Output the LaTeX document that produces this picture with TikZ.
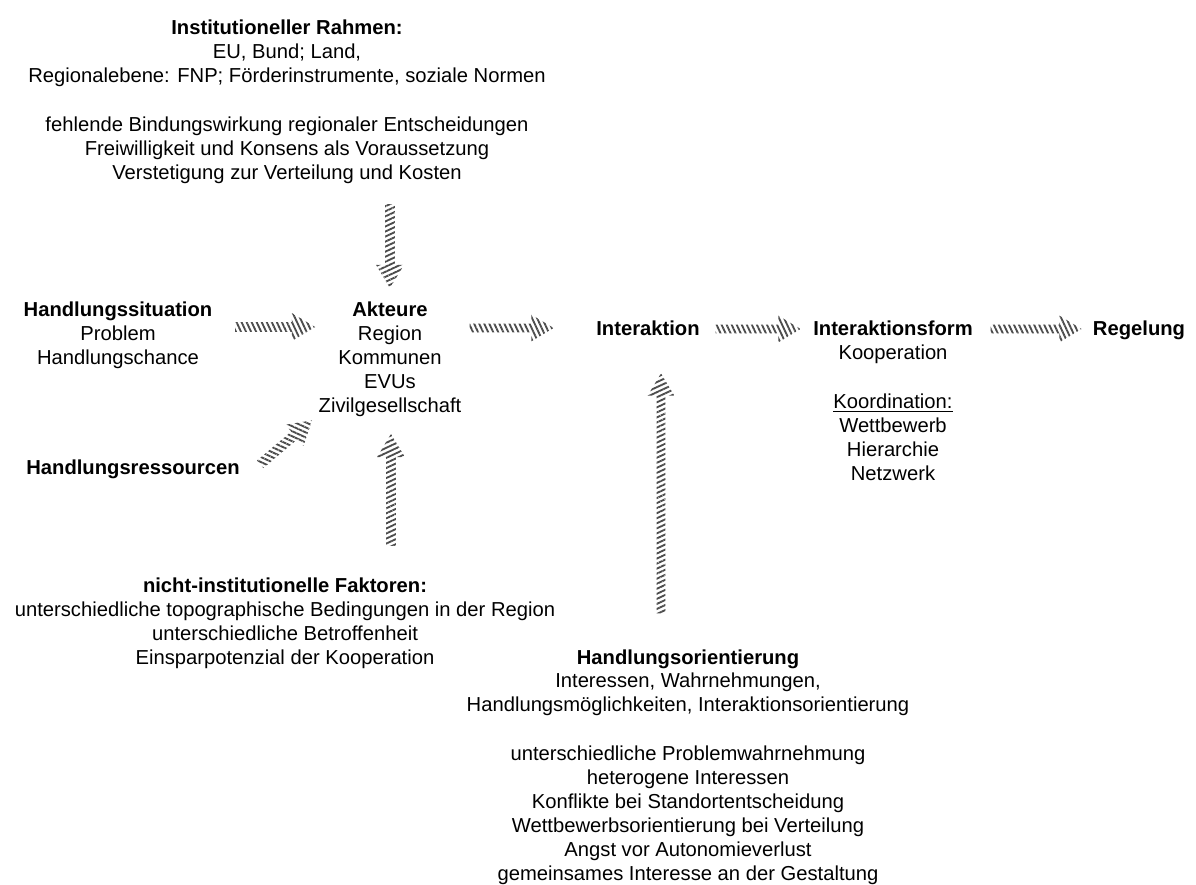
\documentclass[tikz,border=0pt]{standalone}
\usepackage{fontspec}
\setmainfont{Liberation Sans}
\usetikzlibrary{calc}
\usetikzlibrary{patterns.meta}
\usetikzlibrary{shapes.arrows}

\tikzset{
  txt/.style={align=center, font=\fontsize{11.5}{13.65}\selectfont, inner sep=0pt, anchor=north},
  hatch/.style={single arrow, draw=none, inner xsep=0pt, inner ysep=0.08cm, minimum width=0pt,
    single arrow head extend=0.18cm, single arrow tip angle=62, pattern color=black!70},
}
\newcommand\hatchArrow[2]{%
  \path let \p1=(#1), \p2=(#2), \n1={atan2(\y2-\y1,\x2-\x1)}, \n2={veclen(\x2-\x1,\y2-\y1)}, \n3={\n1+115} in
    node[hatch, rotate=\n1, minimum height=\n2, pattern={Lines[angle=\n3, distance=2.6pt, line width=1.05pt]}] at ($(\p1)!0.5!(\p2)$) {};}

\begin{document}
\begin{tikzpicture}[x=0.02cm,y=-0.02cm]
\useasboundingbox (0,0) rectangle (1196,885);

\node[txt] (inst) at (287,20) {\textbf{Institutioneller Rahmen:}\\EU, Bund; Land,\\Regionalebene: FNP; Förderinstrumente, soziale Normen\\[14pt]fehlende Bindungswirkung regionaler Entscheidungen\\Freiwilligkeit und Konsens als Voraussetzung\\Verstetigung zur Verteilung und Kosten};
\node[txt] (sit) at (118,302) {\textbf{Handlungssituation}\\Problem\\Handlungschance};
\node[txt] (akt) at (390,302) {\textbf{Akteure}\\Region\\Kommunen\\EVUs\\Zivilgesellschaft};
\node[txt] (inter) at (648,321) {\textbf{Interaktion}};
\node[txt] (form) at (893,321) {\textbf{Interaktionsform}\\Kooperation\\[14pt]\underline{Koordination:}\\Wettbewerb\\Hierarchie\\Netzwerk};
\node[txt] (reg) at (1139,321) {\textbf{Regelung}};
\node[txt] (ress) at (133,460) {\textbf{Handlungsressourcen}};
\node[txt] (nicht) at (285,578) {\textbf{nicht-institutionelle Faktoren:}\\unterschiedliche topographische Bedingungen in der Region\\unterschiedliche Betroffenheit\\Einsparpotenzial der Kooperation};
\node[txt] (orient) at (688,649) {\textbf{Handlungsorientierung}\\Interessen, Wahrnehmungen,\\Handlungsmöglichkeiten, Interaktionsorientierung\\[14pt]unterschiedliche Problemwahrnehmung\\heterogene Interessen\\Konflikte bei Standortentscheidung\\Wettbewerbsorientierung bei Verteilung\\Angst vor Autonomieverlust\\gemeinsames Interesse an der Gestaltung};

% arrow ends
\coordinate (sitR) at (231,327);
\coordinate (aktL) at (311,327);
\coordinate (aktR) at (466,328);
\coordinate (interL) at (550,328);
\coordinate (interR) at (712,329);
\coordinate (formL) at (797,329);
\coordinate (formR) at (987,329);
\coordinate (regL) at (1078,329);
\coordinate (instB) at (390,200);
\coordinate (aktT) at (390,284);
\coordinate (nichtT) at (391,550);
\coordinate (aktB) at (391,438);
\coordinate (orientT) at (661,617);
\coordinate (interB) at (661,377);
\coordinate (ressR) at (257,467);
\coordinate (aktBL) at (309,423);

\hatchArrow{sitR}{aktL}
\hatchArrow{aktR}{interL}
\hatchArrow{interR}{formL}
\hatchArrow{formR}{regL}
\hatchArrow{instB}{aktT}
\hatchArrow{nichtT}{aktB}
\hatchArrow{orientT}{interB}
\hatchArrow{ressR}{aktBL}
\end{tikzpicture}
\end{document}
